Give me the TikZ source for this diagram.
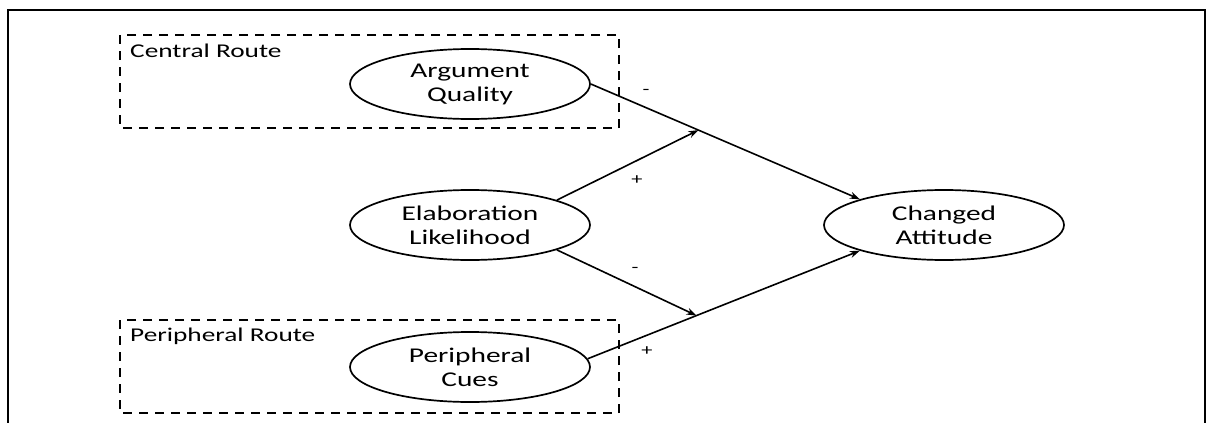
\documentclass[tikz,border=0pt]{standalone}
\usepackage{fontspec}
\setmainfont[FakeStretch=1.4]{Carlito}
\usetikzlibrary{shapes.geometric,arrows.meta,calc}

\tikzset{
  construct/.style={ellipse,draw,line width=1.7pt,minimum width=240pt,minimum height=70pt,
    inner sep=0pt,align=center,font=\fontsize{21}{24}\selectfont},
  routebox/.style={draw,line width=2.2pt,dash pattern=on 9pt off 7pt},
  routelabel/.style={anchor=west,inner sep=0pt,font=\fontsize{19.5}{22}\selectfont},
  sign/.style={inner sep=0pt,font=\fontsize{16}{16}\selectfont},
  link/.style={-{Stealth[length=10pt,width=7pt]},line width=1.6pt}
}

\begin{document}
\begin{tikzpicture}[x=1pt,y=-1pt]
  \useasboundingbox (0,0) rectangle (1211,423);
  % outer frame
  \draw[line width=2.2pt] (8,423) -- (8,10) -- (1205,10) -- (1205,423);

  % routes
  \draw[routebox] (120,35) rectangle (619,128);
  \draw[routebox] (120,320) rectangle (619,413);
  \node[routelabel] (central) at (130,51) {Central Route};
  \node[routelabel] (peripheral) at (130,336) {Peripheral Route};

  % constructs
  \node[construct] (aq) at (470,84) {Argument\\Quality};
  \node[construct] (el) at (470,225) {Elaboration\\Likelihood};
  \node[construct] (pc) at (470,367) {Peripheral\\Cues};
  \node[construct] (ca) at (944,225) {Changed\\Attitude};

  \coordinate (m1) at ($(aq.east)!0.4!(ca.163)$);
  \coordinate (m2) at ($(pc.4)!0.4!(ca.197)$);

  \draw[link] (aq.east) -- (ca.163);
  \draw[link] (pc.4) -- (ca.197);
  \draw[link] (el.16) -- (m1);
  \draw[link] (el.344) -- (m2);

  % signs
  \node[sign] (s1) at (646,92) {-};
  \node[sign] (s2) at (637,180) {+};
  \node[sign] (s3) at (635,270) {-};
  \node[sign] (s4) at (647,351) {+};
\end{tikzpicture}
\end{document}
